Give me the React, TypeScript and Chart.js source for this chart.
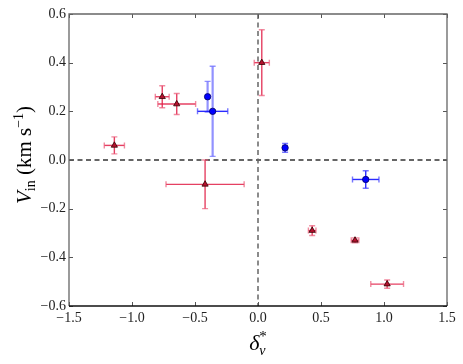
import React, { useEffect, useRef } from 'react';
import { Chart, registerables } from 'chart.js';
Chart.register(...registerables);

// Data
const redX = [-1.14, -0.76, -0.645, 0.03, -0.42, 0.43, 0.77, 1.025];
const redY = [0.06, 0.26, 0.23, 0.40, -0.10, -0.29, -0.33, -0.51];
const redXErr = [0.08, 0.055, 0.15, 0.06, 0.31, 0.03, 0.03, 0.13];
const redYErr = [0.035, 0.045, 0.043, 0.135, 0.10, 0.02, 0.01, 0.017];
const blueX = [-0.40, -0.36, 0.215, 0.855];
const blueY = [0.26, 0.20, 0.05, -0.08];
const blueXErr = [0.0, 0.12, 0.015, 0.105];
const blueYErr = [0.063, 0.185, 0.018, 0.036];
const xTickValues = [-1.5, -1.0, -0.5, 0.0, 0.5, 1.0, 1.5];
const yTickValues = [-0.6, -0.4, -0.2, 0.0, 0.2, 0.4, 0.6];

// Styles
const SERIF = '"Liberation Serif", "DejaVu Serif", serif';
const redBar = 'rgba(225,30,70,0.85)';
const redCap = 'rgba(235,90,120,0.7)';
const blueBar = 'rgba(20,20,255,0.9)';
const blueFaded = 'rgba(110,110,255,0.75)';
const blueYFaded = [true, true, false, false];

const fmt = (v: number) => {
  const s = Math.abs(v) < 1e-9 ? '0.0' : v.toFixed(1);
  return s.replace('-', '\u2212');
};

const overlay = {
  id: 'overlay',
  beforeDatasetsDraw(chart: any) {
    const { ctx, chartArea: a, scales } = chart;
    const xs = scales.x, ys = scales.y;
    ctx.save();
    // dashed zero lines
    ctx.lineWidth = 1.5;
    ctx.setLineDash([5, 3.5]);
    ctx.strokeStyle = '#333';
    const y0 = ys.getPixelForValue(0);
    ctx.beginPath(); ctx.moveTo(a.left, y0); ctx.lineTo(a.right, y0); ctx.stroke();
    ctx.strokeStyle = '#666';
    const x0 = xs.getPixelForValue(0);
    ctx.beginPath(); ctx.moveTo(x0, a.top); ctx.lineTo(x0, a.bottom); ctx.stroke();
    ctx.setLineDash([]);

    const drawBars = (X: number[], Y: number[], XE: number[], YE: number[], colX: (i: number) => string, colY: (i: number) => string, cap: (i: number, c: string) => string) => {
      for (let i = 0; i < X.length; i++) {
        const px = xs.getPixelForValue(X[i]);
        const py = ys.getPixelForValue(Y[i]);
        if (XE[i] > 0) {
          const l = xs.getPixelForValue(X[i] - XE[i]);
          const r = xs.getPixelForValue(X[i] + XE[i]);
          ctx.lineWidth = 1.4;
          ctx.strokeStyle = colX(i);
          ctx.beginPath(); ctx.moveTo(l, py); ctx.lineTo(r, py); ctx.stroke();
          ctx.strokeStyle = cap(i, colX(i));
          ctx.beginPath();
          ctx.moveTo(l, py - 3); ctx.lineTo(l, py + 3);
          ctx.moveTo(r, py - 3); ctx.lineTo(r, py + 3);
          ctx.stroke();
        }
        if (YE[i] > 0) {
          const t = ys.getPixelForValue(Y[i] + YE[i]);
          const b = ys.getPixelForValue(Y[i] - YE[i]);
          const c = colY(i);
          ctx.lineWidth = c === blueFaded ? 2.2 : 1.4;
          ctx.strokeStyle = c;
          ctx.beginPath(); ctx.moveTo(px, t); ctx.lineTo(px, b); ctx.stroke();
          ctx.lineWidth = 1.4;
          ctx.strokeStyle = cap(i, c);
          ctx.beginPath();
          ctx.moveTo(px - 3, t); ctx.lineTo(px + 3, t);
          ctx.moveTo(px - 3, b); ctx.lineTo(px + 3, b);
          ctx.stroke();
        }
      }
    };
    drawBars(redX, redY, redXErr, redYErr, () => redBar, () => redBar, () => redCap);
    drawBars(blueX, blueY, blueXErr, blueYErr, () => blueBar, (i) => (blueYFaded[i] ? blueFaded : blueBar), (i, c) => (c === blueFaded ? blueFaded : 'rgba(60,60,255,0.7)'));
    ctx.restore();
  },
  afterDraw(chart: any) {
    const { ctx, chartArea: a, scales } = chart;
    const xs = scales.x, ys = scales.y;
    ctx.save();
    // inner ticks
    ctx.strokeStyle = '#555';
    ctx.lineWidth = 1;
    const tl = 4;
    ctx.beginPath();
    xTickValues.forEach((v) => {
      const px = Math.round(xs.getPixelForValue(v)) + 0.5;
      ctx.moveTo(px, a.bottom); ctx.lineTo(px, a.bottom - tl);
      ctx.moveTo(px, a.top); ctx.lineTo(px, a.top + tl);
    });
    yTickValues.forEach((v) => {
      const py = Math.round(ys.getPixelForValue(v)) + 0.5;
      ctx.moveTo(a.left, py); ctx.lineTo(a.left + tl, py);
      ctx.moveTo(a.right, py); ctx.lineTo(a.right - tl, py);
    });
    ctx.stroke();
    // frame
    ctx.lineWidth = 1.3;
    ctx.strokeStyle = '#666';
    ctx.beginPath();
    ctx.moveTo(a.left, a.bottom); ctx.lineTo(a.left, a.top); ctx.lineTo(a.right, a.top); ctx.lineTo(a.right, a.bottom);
    ctx.stroke();
    ctx.strokeStyle = '#111';
    ctx.beginPath(); ctx.moveTo(a.left, a.bottom); ctx.lineTo(a.right, a.bottom); ctx.stroke();

    // axis titles
    ctx.fillStyle = '#000';
    ctx.textBaseline = 'alphabetic';
    type Piece = { t: string; f: string; dy: number };
    const drawPieces = (pieces: Piece[]) => {
      let w = 0;
      pieces.forEach((p) => { ctx.font = p.f; w += ctx.measureText(p.t).width; });
      let x = -w / 2;
      pieces.forEach((p) => {
        ctx.font = p.f;
        ctx.textAlign = 'left';
        ctx.fillText(p.t, x, p.dy);
        x += ctx.measureText(p.t).width;
      });
    };
    // y title
    ctx.save();
    ctx.translate(31, 155);
    ctx.rotate(-Math.PI / 2);
    drawPieces([
      { t: 'V', f: `italic 21px ${SERIF}`, dy: 0 },
      { t: 'in', f: `14px ${SERIF}`, dy: 4 },
      { t: ' (km s', f: `21px ${SERIF}`, dy: 0 },
      { t: '\u22121', f: `14px ${SERIF}`, dy: -8 },
      { t: ')', f: `21px ${SERIF}`, dy: 0 },
    ]);
    ctx.restore();
    // x title
    ctx.save();
    ctx.translate(a.left + (a.right - a.left) / 2, 350);
    drawPieces([
      { t: '\u03B4', f: `italic 22px ${SERIF}`, dy: 0 },
      { t: '*', f: `15px ${SERIF}`, dy: -9 },
    ]);
    ctx.textAlign = 'left';
    ctx.font = `italic 22px ${SERIF}`;
    const dw = ctx.measureText('\u03B4').width;
    ctx.font = `15px ${SERIF}`;
    const sw = ctx.measureText('*').width;
    ctx.font = `italic 14px ${SERIF}`;
    ctx.fillText('v', -(dw + sw) / 2 + dw, 5);
    ctx.restore();
    ctx.restore();
  },
};

export default function App() {
  const ref = useRef<HTMLCanvasElement>(null);
  useEffect(() => {
    const canvas = ref.current!;
    const chart = new Chart(canvas, {
      type: 'scatter',
      data: {
        datasets: [
          {
            label: 'red',
            data: redX.map((x, i) => ({ x, y: redY[i] })),
            pointStyle: 'triangle',
            pointRadius: 3.6,
            backgroundColor: '#b5102e',
            borderColor: '#300000',
            borderWidth: 0.8,
          },
          {
            label: 'blue',
            data: blueX.map((x, i) => ({ x, y: blueY[i] })),
            pointStyle: 'circle',
            pointRadius: 3.2,
            backgroundColor: '#0000ff',
            borderColor: '#000060',
            borderWidth: 0.8,
          },
        ],
      },
      options: {
        animation: false,
        responsive: false,
        maintainAspectRatio: false,
        layout: { padding: { top: 14, right: 16, left: 0, bottom: 0 } },
        plugins: { legend: { display: false }, tooltip: { enabled: false } },
        scales: {
          x: {
            type: 'linear',
            min: -1.5,
            max: 1.5,
            afterBuildTicks: (s: any) => { s.ticks = xTickValues.map((v) => ({ value: v })); },
            afterFit: (s: any) => { s.height = 58; },
            grid: { display: false, drawTicks: false },
            border: { display: false },
            ticks: {
              padding: 4,
              color: '#222',
              font: { family: SERIF, size: 14 },
              maxRotation: 0,
              autoSkip: false,
              callback: (v: any) => fmt(Number(v)),
            },
          },
          y: {
            type: 'linear',
            min: -0.6,
            max: 0.6,
            afterBuildTicks: (s: any) => { s.ticks = yTickValues.map((v) => ({ value: v })); },
            afterFit: (s: any) => { s.width = 69; },
            grid: { display: false, drawTicks: false },
            border: { display: false },
            ticks: {
              padding: 3,
              color: '#222',
              font: { family: SERIF, size: 14 },
              autoSkip: false,
              callback: (v: any) => fmt(Number(v)),
            },
          },
        },
      },
      plugins: [overlay],
    } as any);
    return () => chart.destroy();
  }, []);
  return (
    <div style={{ position: 'fixed', left: 0, top: 0, width: 463, height: 364, background: '#fff' }}>
      <canvas ref={ref} width={463} height={364} style={{ width: 463, height: 364, display: 'block' }} />
    </div>
  );
}
